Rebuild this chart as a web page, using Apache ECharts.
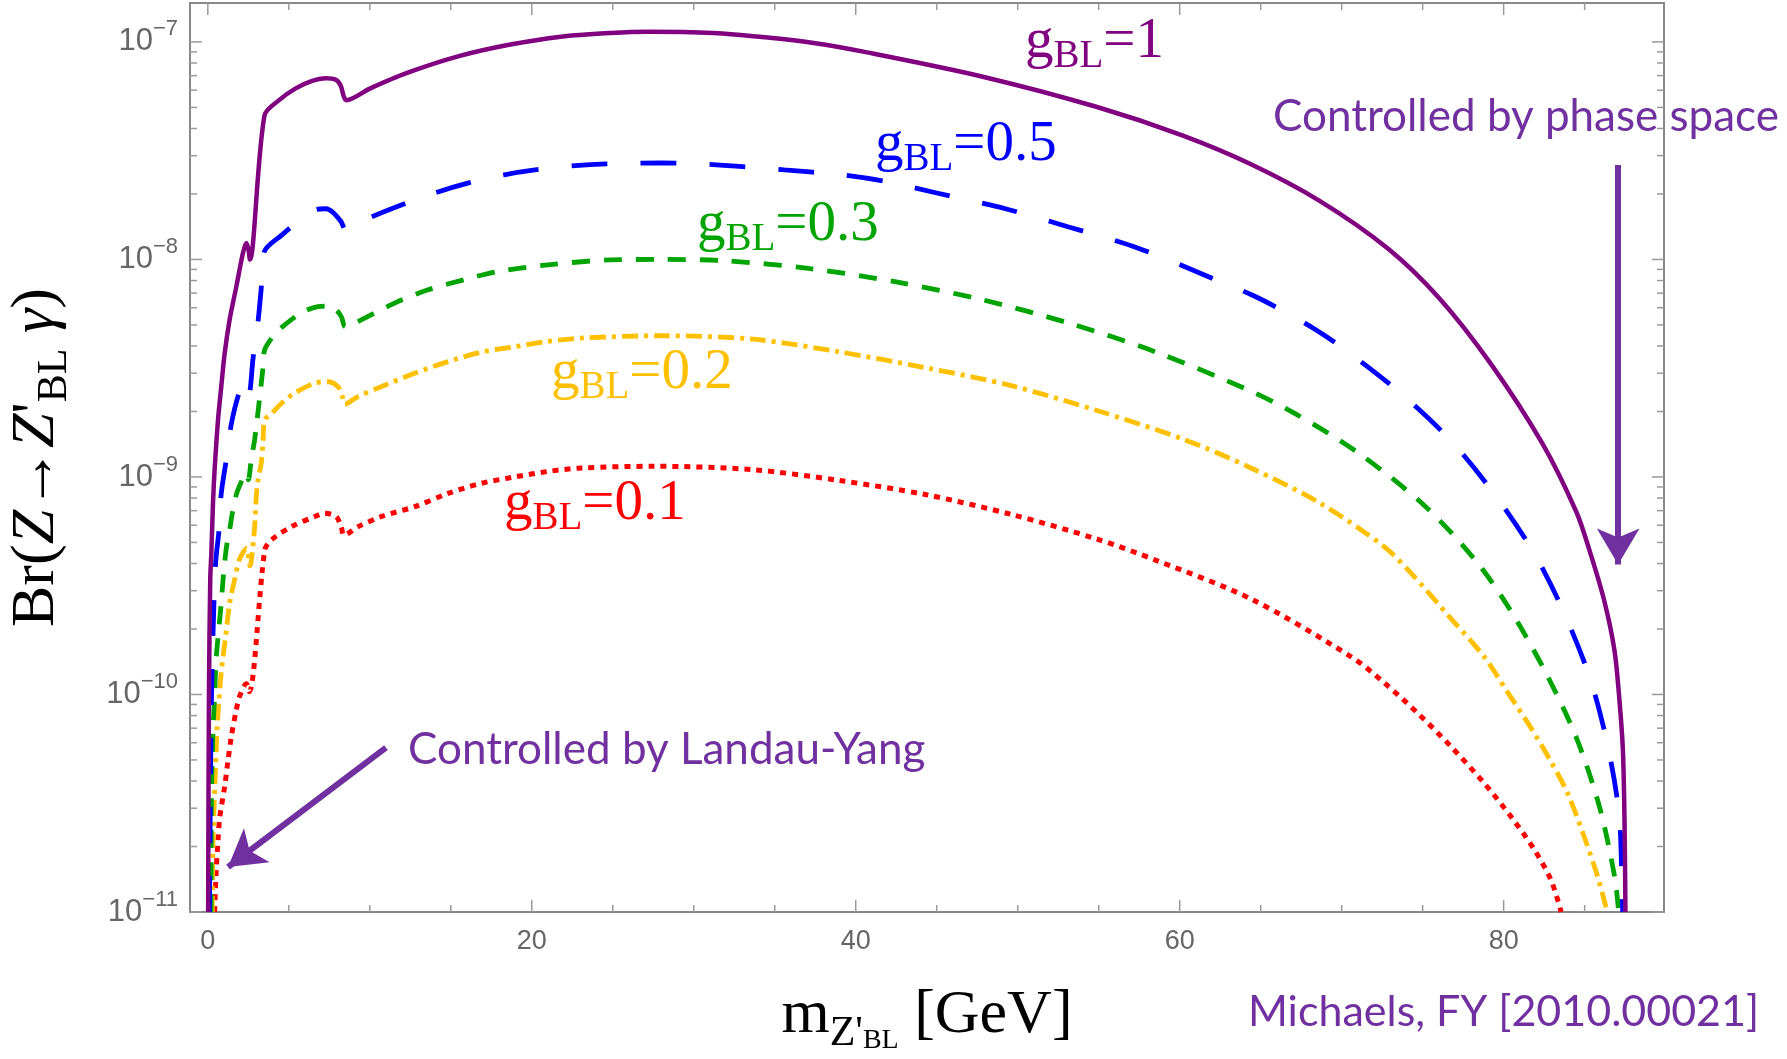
<!DOCTYPE html>
<html>
<head>
<meta charset="utf-8">
<script src="https://cdn.jsdelivr.net/npm/echarts@6/dist/echarts.min.js"></script>
<style>html,body{margin:0;padding:0;background:#fff}#c{width:1787px;height:1059px}</style>
</head>
<body>
<div id="c"></div>
<script>
// ---------- data (mass in GeV, branching ratio) ----------
const couplings = ['1', '0.5', '0.3', '0.2', '0.1'];

const br_g1 = [[0.02,1.0e-11],[0.07,1.0e-10],[0.15,3.4e-10],[0.22,4.5e-10],[0.32,7.6e-10],[0.42,1.08e-9],[0.63,1.83e-9],[0.83,2.6e-9],[1.04,3.7e-9],[1.35,5.3e-9],[1.76,7.5e-9],[2.17,1.07e-8],[2.38,1.19e-8],[2.5,1.12e-8],[2.6,1.0e-8],[3.5,4.6e-8],[4.4,5.4e-8],[5.4,6.1e-8],[6.4,6.6e-8],[7.3,6.8e-8],[7.9,6.7e-8],[8.2,6.3e-8],[8.4,5.6e-8],[8.55,5.4e-8],[10.0,6.1e-8],[12.3,7.2e-8],[15.5,8.6e-8],[18.6,9.7e-8],[21.8,1.057e-7],[24.9,1.10e-7],[27.1,1.115e-7],[31.2,1.10e-7],[34.4,1.05e-7],[37.5,9.86e-8],[40.7,8.95e-8],[47.84,6.92e-8],[54.9,5.02e-8],[60.2,3.71e-8],[64.4,2.74e-8],[68.64,1.86e-8],[72.87,1.12e-8],[76.04,6.62e-9],[79.2,3.32e-9],[82.38,1.43e-9],[84.49,6.9e-10],[85.3,4.6e-10],[86.2,2.72e-10],[86.84,1.6e-10],[87.15,9.4e-11],[87.36,5.6e-11],[87.46,2.7e-11],[87.52,1.0e-11]];

const br_g05 = [[0.1,1.0e-11],[0.15,3.0e-11],[0.22,9.0e-11],[0.32,1.9e-10],[0.48,4.0e-10],[0.69,5.7e-10],[0.83,8.4e-10],[1.14,1.2e-9],[1.45,1.75e-9],[1.96,2.47e-9],[2.38,2.8e-9],[2.56,2.45e-9],[2.79,3.5e-9],[3.1,5.2e-9],[3.3,7.4e-9],[3.5,1.09e-8],[4.6,1.3e-8],[5.6,1.5e-8],[6.65,1.69e-8],[7.3,1.71e-8],[7.75,1.64e-8],[8.23,1.49e-8],[8.55,1.36e-8],[9.8,1.53e-8],[11.7,1.75e-8],[13.9,2.01e-8],[16.1,2.25e-8],[18.3,2.45e-8],[20.2,2.58e-8],[22.7,2.7e-8],[24.6,2.75e-8],[28.0,2.78e-8],[31.2,2.73e-8],[35.6,2.58e-8],[39.1,2.45e-8],[41.9,2.28e-8],[45.0,2.02e-8],[49.25,1.71e-8],[53.15,1.41e-8],[57.4,1.13e-8],[62.0,8.2e-9],[64.4,6.9e-9],[66.4,5.8e-9],[68.3,4.8e-9],[70.1,3.9e-9],[73.55,2.46e-9],[76.7,1.48e-9],[79.4,8.4e-10],[81.85,4.5e-10],[83.7,2.4e-10],[85.36,1.17e-10],[86.45,5.7e-11],[87.13,2.8e-11],[87.31,1.3e-11],[87.35,1.0e-11]];

const br_g03 = [[0.2,1.0e-11],[0.22,3.2e-11],[0.32,6.8e-11],[0.42,9.8e-11],[0.52,1.47e-10],[0.83,2.64e-10],[0.94,3.36e-10],[1.14,4.7e-10],[1.35,5.7e-10],[1.51,6.8e-10],[1.76,8.3e-10],[2.1,9.6e-10],[2.38,1.04e-9],[2.5,9.7e-10],[2.69,1.22e-9],[2.89,1.48e-9],[3.16,2.18e-9],[3.41,3.2e-9],[3.51,3.84e-9],[4.02,4.42e-9],[4.6,4.9e-9],[5.77,5.68e-9],[6.8,6.07e-9],[7.4,6.1e-9],[7.83,5.97e-9],[8.24,5.46e-9],[8.5,4.9e-9],[9.27,5.18e-9],[11.53,6.3e-9],[13.6,7.25e-9],[15.9,8.1e-9],[17.9,8.8e-9],[21.0,9.44e-9],[24.8,9.95e-9],[28.0,1.0e-8],[31.9,9.87e-9],[37.2,9.07e-9],[42.5,7.88e-9],[47.84,6.52e-9],[53.15,5.1e-9],[58.5,3.76e-9],[64.4,2.48e-9],[67.1,1.96e-9],[70.9,1.31e-9],[75.1,7.4e-10],[78.3,4.1e-10],[80.4,2.45e-10],[82.6,1.26e-10],[84.5,6.3e-11],[85.94,3.0e-11],[86.87,1.43e-11],[87.1,1.0e-11]];

const br_g02 = [[0.28,1.0e-11],[0.32,2.1e-11],[0.48,4.7e-11],[0.57,6.9e-11],[0.69,9.4e-11],[0.83,1.27e-10],[1.1,1.85e-10],[1.35,2.64e-10],[1.65,3.36e-10],[1.96,4.2e-10],[2.4,4.7e-10],[2.6,3.9e-10],[2.89,5.9e-10],[2.99,8.1e-10],[3.1,9.7e-10],[3.3,1.16e-9],[3.41,1.48e-9],[3.51,1.83e-9],[3.92,1.95e-9],[4.6,2.2e-9],[5.36,2.43e-9],[6.59,2.7e-9],[7.42,2.74e-9],[8.04,2.6e-9],[8.3,2.35e-9],[8.45,2.16e-9],[9.27,2.34e-9],[10.7,2.6e-9],[12.77,3.0e-9],[14.83,3.39e-9],[16.88,3.75e-9],[18.94,3.97e-9],[21.0,4.2e-9],[23.06,4.35e-9],[28.0,4.46e-9],[33.66,4.3e-9],[38.98,3.76e-9],[44.3,3.18e-9],[49.6,2.63e-9],[54.9,2.02e-9],[60.24,1.49e-9],[64.4,1.1e-9],[68.64,7.6e-10],[72.6,4.8e-10],[74.3,3.6e-10],[76.6,2.3e-10],[78.8,1.49e-10],[80.26,1.02e-10],[81.7,7.0e-11],[82.93,4.9e-11],[83.96,3.5e-11],[84.99,2.2e-11],[85.81,1.45e-11],[86.4,1.0e-11]];

const br_g01 = [[0.42,1.0e-11],[0.52,1.56e-11],[0.63,2.14e-11],[0.73,2.7e-11],[1.04,3.77e-11],[1.25,5.0e-11],[1.45,6.4e-11],[1.76,8.5e-11],[1.96,9.8e-11],[2.38,1.12e-10],[2.56,1.03e-10],[3.51,4.6e-10],[3.92,5.13e-10],[5.15,5.9e-10],[6.59,6.57e-10],[7.21,6.81e-10],[7.93,6.57e-10],[8.24,5.9e-10],[8.4,5.4e-10],[9.27,5.9e-10],[10.7,6.57e-10],[12.77,7.3e-10],[14.83,8.4e-10],[16.88,9.35e-10],[18.94,1.0e-9],[21.0,1.06e-9],[23.06,1.1e-9],[27.6,1.12e-9],[33.66,1.08e-9],[38.98,9.64e-10],[44.3,8.3e-10],[49.6,6.73e-10],[54.9,5.18e-10],[58.5,4.15e-10],[64.4,2.75e-10],[70.59,1.49e-10],[72.64,1.13e-10],[74.7,8.2e-11],[76.76,5.75e-11],[78.8,3.91e-11],[80.46,2.74e-11],[81.9,1.93e-11],[82.93,1.4e-11],[83.55,1.0e-11]];

// tick values
const massTicks = [0, 20, 40, 60, 80];
const massMinorTicks = [5, 10, 15, 25, 30, 35, 45, 50, 55, 65, 70, 75, 85];
const brDecades = [1e-11, 1e-10, 1e-9, 1e-8, 1e-7];
const brMinorTicks = [2e-11,3e-11,4e-11,5e-11,6e-11,7e-11,8e-11,9e-11,
                      2e-10,3e-10,4e-10,5e-10,6e-10,7e-10,8e-10,9e-10,
                      2e-9,3e-9,4e-9,5e-9,6e-9,7e-9,8e-9,9e-9,
                      2e-8,3e-8,4e-8,5e-8,6e-8,7e-8,8e-8,9e-8];

// annotation arrows (tail, tip) in data coordinates
const arrowLandauYang = [[11.0, 5.7e-11], [1.25, 1.61e-11]];
const arrowPhaseSpace = [[87.07, 2.72e-8], [87.07, 3.96e-10]];

// axis ranges
const massRange = [-1.1, 89.9];
const brRange = [1e-11, 1.51e-7];

// ---------- styling ----------
const colors = ['#800080', '#0000ff', '#00a400', '#ffc000', '#ff0000'];
const dashes = ['solid', [36, 33], [18, 14], [16, 6, 4, 6], [6, 6]];
const widths = [4.5, 4.8, 4.8, 4.8, 5];
const labelPos = [[1025, 76], [875, 179], [697, 259], [551, 407], [504, 538]];
const seriesData = [br_g1, br_g05, br_g03, br_g02, br_g01];

const serif = '"Liberation Serif","Times New Roman",serif';
const sans = '"Liberation Sans",Arial,sans-serif';
const annFont = 'Lato,"Open Sans",sans-serif';
const annColor = '#7030a0';
const tickColor = '#9a9a9a';

function tickSeries(data, len, isX) {
  return {
    type: 'custom', silent: true, z: 1, clip: false,
    data: data,
    renderItem: function (params, api) {
      const p = api.coord([api.value(0), api.value(1)]);
      const cs = params.coordSys;
      const st = { stroke: tickColor, lineWidth: 1.5 };
      if (isX) {
        const yb = cs.y + cs.height, yt = cs.y;
        return { type: 'group', children: [
          { type: 'line', shape: { x1: p[0], y1: yb, x2: p[0], y2: yb - len }, style: st },
          { type: 'line', shape: { x1: p[0], y1: yt, x2: p[0], y2: yt + len }, style: st }
        ]};
      }
      const xl = cs.x, xr = cs.x + cs.width;
      return { type: 'group', children: [
        { type: 'line', shape: { x1: xl, y1: p[1], x2: xl + len, y2: p[1] }, style: st },
        { type: 'line', shape: { x1: xr, y1: p[1], x2: xr - len, y2: p[1] }, style: st }
      ]};
    }
  };
}

const lineSeries = seriesData.map(function (d, i) {
  const s = {
    name: 'g_BL=' + couplings[i],
    type: 'line',
    data: d,
    showSymbol: false,
    symbol: 'none',
    smooth: 0.3,
    z: 8 - i,
    lineStyle: { color: colors[i], width: widths[i], type: dashes[i], cap: 'butt' },
    silent: true
  };
  if (i === 0) {
    s.markLine = {
      silent: true,
      symbol: ['none', 'arrow'],
      symbolSize: [32, 36],
      label: { show: false },
      lineStyle: { color: annColor, width: 6, type: 'solid' },
      data: [
        [{ coord: arrowLandauYang[0] }, { coord: arrowLandauYang[1] }],
        [{ coord: arrowPhaseSpace[0] }, { coord: arrowPhaseSpace[1] }]
      ]
    };
  }
  return s;
});

const curveLabels = couplings.map(function (c, i) {
  const rich = {
    m: { fontFamily: serif, fontSize: 57, lineHeight: 62, verticalAlign: 'top', color: colors[i] },
    s: { fontFamily: serif, fontSize: 39, lineHeight: 39, verticalAlign: 'bottom', color: colors[i] }
  };
  return {
    type: 'text', x: labelPos[i][0], y: labelPos[i][1], silent: true,
    style: { text: '{m|g}{s|BL}{m|=' + c + '}', rich: rich, align: 'left', verticalAlign: 'bottom', fill: colors[i] }
  };
});

const annotations = [
  { text: 'Controlled by phase space', x: 1273, y: 117, size: 44 },
  { text: 'Controlled by Landau-Yang', x: 408, y: 750, size: 44 },
  { text: 'Michaels, FY [2010.00021]', x: 1248, y: 1012, size: 43 }
].map(function (a) {
  return {
    type: 'text', x: a.x, y: a.y, silent: true,
    style: { text: a.text, fill: annColor, font: a.size + 'px ' + annFont, align: 'left', verticalAlign: 'middle' }
  };
});

const titleRich = {
  r: { fontFamily: serif, fontSize: 62, lineHeight: 70, verticalAlign: 'top', color: '#000' },
  i: { fontFamily: serif, fontSize: 62, fontStyle: 'italic', lineHeight: 70, verticalAlign: 'top', color: '#000' },
  s: { fontFamily: serif, fontSize: 42, lineHeight: 42, verticalAlign: 'bottom', color: '#000' },
  ss: { fontFamily: serif, fontSize: 28, lineHeight: 28, verticalAlign: 'bottom', color: '#000' }
};

const option = {
  animation: false,
  backgroundColor: '#fff',
  grid: {
    left: 190, right: 123, top: 3, bottom: 147,
    show: true, borderColor: '#888', borderWidth: 2, backgroundColor: 'transparent',
    outerBoundsMode: 'none', containLabel: false
  },
  xAxis: {
    type: 'value', min: massRange[0], max: massRange[1], splitNumber: 5,
    axisLine: { show: false }, axisTick: { show: false }, splitLine: { show: false },
    axisLabel: {
      margin: 16, color: '#666', fontFamily: sans, fontSize: 27,
      formatter: function (v) { return massTicks.indexOf(Math.round(v * 1000) / 1000) >= 0 ? String(v) : ''; }
    },
    name: "{r|m}{s|Z'}{ss|BL}{r| [GeV]}",
    nameLocation: 'middle', nameGap: 73,
    nameTextStyle: { rich: titleRich }
  },
  yAxis: {
    type: 'log', logBase: 10, min: brRange[0], max: brRange[1],
    axisLine: { show: false }, axisTick: { show: false }, splitLine: { show: false },
    axisLabel: {
      margin: 12,
      formatter: function (v) {
        const e = Math.log10(v);
        const r = Math.round(e);
        if (Math.abs(e - r) > 0.01) return '';
        return '{b|10}{s|\u2212' + (-r) + '}';
      },
      rich: {
        b: { fontFamily: sans, fontSize: 31, lineHeight: 47, verticalAlign: 'middle', color: '#666' },
        s: { fontFamily: sans, fontSize: 22, lineHeight: 22, verticalAlign: 'top', color: '#666' }
      }
    },
    name: "{r|Br(}{i|Z}{r|\u2192}{i|Z}{r|'}{s|BL}{r| }{i|\u03b3}{r|)}",
    nameLocation: 'middle', nameRotate: 90, nameGap: 114,
    nameTextStyle: { rich: titleRich }
  },
  series: [
    tickSeries(massTicks.map(function (v) { return [v, brRange[0]]; }), 12, true),
    tickSeries(massMinorTicks.map(function (v) { return [v, brRange[0]]; }), 7, true),
    tickSeries(brDecades.map(function (v) { return [massRange[0], v]; }), 12, false),
    tickSeries(brMinorTicks.map(function (v) { return [massRange[0], v]; }), 7, false)
  ].concat(lineSeries),
  graphic: curveLabels.concat(annotations)
};

const chart = echarts.init(document.getElementById('c'), null, { renderer: 'canvas', width: 1787, height: 1059 });
chart.setOption(option);
</script>
</body>
</html>
